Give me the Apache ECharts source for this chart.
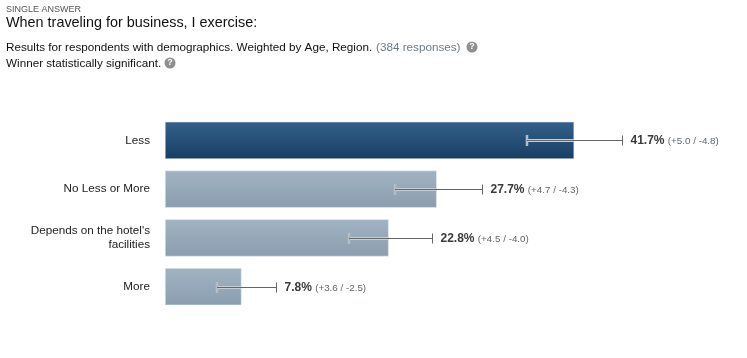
<!DOCTYPE html>
<html><head><meta charset="utf-8">
<style>html,body{margin:0;padding:0;background:#fff}#c{width:747px;height:358px}</style>
<script src="https://cdn.jsdelivr.net/npm/echarts@6/dist/echarts.min.js"></script>
</head><body><div id="c"></div>
<script>
const categories = ["Less", "No Less or More", "Depends on the hotel's\nfacilities", "More"];
const values = [41.7, 27.7, 22.8, 7.8];
const plus = [5.0, 4.7, 4.5, 3.6];
const minus = [4.8, 4.3, 4.0, 2.5];
const winnerIndex = 0;

const font = '"Liberation Sans", Arial, sans-serif';
const chart = echarts.init(document.getElementById('c'), null, {renderer: 'canvas'});

function grad(a, b) {
  return new echarts.graphic.LinearGradient(0, 0, 0, 1, [{offset: 0, color: a}, {offset: 1, color: b}]);
}
function helpIcon(x, y) {
  return [
    {type: 'circle', shape: {cx: x, cy: y, r: 5.5}, style: {fill: '#8f8f8f'}},
    {type: 'text', x: x, y: y, style: {text: '?', font: 'bold 9px ' + font, fill: '#fff', align: 'center', verticalAlign: 'middle'}}
  ];
}

chart.setOption({
  animation: false,
  backgroundColor: '#fff',
  textStyle: {fontFamily: font},
  grid: {left: 165, top: 116, width: 490.5, height: 195, containLabel: false},
  xAxis: {type: 'value', min: 0, max: 50, show: false},
  yAxis: {
    type: 'category', inverse: true, data: categories,
    axisLine: {show: false}, axisTick: {show: false},
    axisLabel: {margin: 15, align: 'right', color: '#222', fontSize: 11.7, lineHeight: 14, fontFamily: font}
  },
  series: [
    {
      type: 'bar', barCategoryGap: '24%', silent: true, z: 2,
      data: values.map((v, i) => ({
        value: v,
        itemStyle: i === winnerIndex
          ? {color: grad('#346089', '#173f63'), borderColor: '#dbe3ea', borderWidth: 0.5}
          : {color: grad('#a1b3c3', '#8a9eaf'), borderColor: '#eef2f5', borderWidth: 0.5}
      }))
    },
    {
      type: 'custom', silent: true, clip: false, z: 10,
      data: values.map((v, i) => [v - minus[i], v + plus[i], i]),
      renderItem(params, api) {
        const i = api.value(2);
        const lo = api.coord([api.value(0), i]);
        const hi = api.coord([api.value(1), i]);
        const barEnd = api.coord([values[i], i]);
        const y = Math.round(lo[1]) + 0.5;
        const x0 = Math.round(lo[0]), x1 = Math.round(hi[0]) - 0.5;
        return {
          type: 'group',
          children: [
            {type: 'line', z2: 1, shape: {x1: x0, y1: y, x2: barEnd[0], y2: y}, style: {stroke: '#c6cfd7', lineWidth: 3}},
            {type: 'line', z2: 1, shape: {x1: x0, y1: y - 5.5, x2: x0, y2: y + 5.5}, style: {stroke: '#b4bdc5', lineWidth: 2.5}},
            {type: 'line', z2: 2, shape: {x1: x0, y1: y, x2: x1, y2: y}, style: {stroke: '#666', lineWidth: 1}},
            {type: 'line', z2: 2, shape: {x1: x1, y1: y - 5, x2: x1, y2: y + 5}, style: {stroke: '#666', lineWidth: 1}},
            {
              type: 'text', z2: 3, x: x1 + 8, y: y + 0.5,
              style: {
                text: '{b|' + values[i].toFixed(1) + '%} {s|(+' + plus[i].toFixed(1) + ' / -' + minus[i].toFixed(1) + ')}',
                verticalAlign: 'middle', align: 'left',
                rich: {
                  b: {font: 'bold 12px ' + font, fill: '#3a3a3a'},
                  s: {font: '9.8px ' + font, fill: '#5f666c'}
                }
              }
            }
          ]
        };
      }
    }
  ],
  graphic: [
    {type: 'text', x: 6, y: 5, style: {text: 'SINGLE ANSWER', font: '9px ' + font, fill: '#555'}},
    {type: 'text', x: 6, y: 16, style: {text: 'When traveling for business, I exercise:', font: '14.4px ' + font, fill: '#111'}},
    {type: 'text', x: 6, y: 42, style: {text: 'Results for respondents with demographics. Weighted by Age, Region.', font: '11.7px ' + font, fill: '#111'}},
    {type: 'text', x: 376, y: 42, style: {text: '(384 responses)', font: '11.7px ' + font, fill: '#6c7b88'}},
    {type: 'text', x: 6, y: 58, style: {text: 'Winner statistically significant.', font: '11.7px ' + font, fill: '#111'}},
    ...helpIcon(472, 47),
    ...helpIcon(170, 63)
  ]
});
</script></body></html>
